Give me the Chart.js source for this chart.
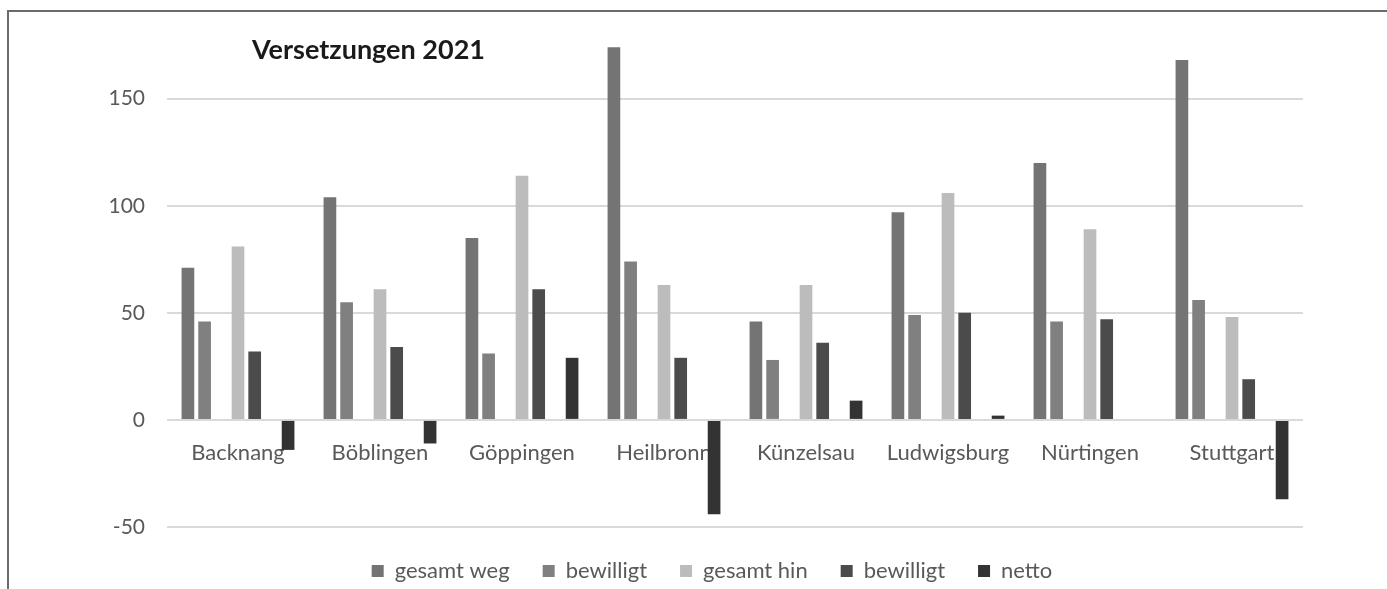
<!DOCTYPE html>
<html>
<head>
<meta charset="utf-8">
<script src="https://cdn.jsdelivr.net/npm/chart.js@4"></script>
<style>
  html, body { margin: 0; padding: 0; background: #fff; }
  #wrap { position: relative; width: 1387px; height: 589px; overflow: hidden; }
  #frame { position: absolute; left: 7px; top: 10px; width: 1400px; height: 600px;
           border-left: 2px solid #6b6b6b; border-top: 2px solid #6b6b6b; }
  canvas { position: absolute; left: 0; top: 0; }
</style>
</head>
<body>
<div id="wrap">
  <div id="frame"></div>
  <canvas id="chart" width="1387" height="589"></canvas>
</div>
<script>
// categories
const categories = ['Backnang', 'Böblingen', 'Göppingen', 'Heilbronn', 'Künzelsau', 'Ludwigsburg', 'Nürtingen', 'Stuttgart'];

// series values
const gesamtWeg    = [71, 104, 85, 174, 46, 97, 120, 168];
const bewilligtWeg = [46, 55, 31, 74, 28, 49, 46, 56];
const gesamtHin    = [81, 61, 114, 63, 63, 106, 89, 48];
const bewilligtHin = [32, 34, 61, 29, 36, 50, 47, 19];
const netto        = [-14, -11, 29, -44, 9, 2, 0, -37];
const emptySlot    = [null, null, null, null, null, null, null, null];

// axis
const yTicks = [-50, 0, 50, 100, 150];

const FONT = 'Lato, "Open Sans", sans-serif';

function bars(label, data, color) {
  return {
    label: label,
    data: data,
    backgroundColor: color,
    borderColor: color,
    borderWidth: 0,
    barPercentage: 0.76,
    categoryPercentage: 0.823
  };
}

// no axis-label padding, so the plot area sits where the layout puts it
function noPadding(scale) {
  scale.paddingTop = 0;
  scale.paddingBottom = 0;
}

const titlePlugin = {
  id: 'cornerTitle',
  afterDraw(chart) {
    const ctx = chart.ctx;
    ctx.save();
    ctx.font = 'bold 27px ' + FONT;
    ctx.fillStyle = '#1a1a1a';
    ctx.textAlign = 'left';
    ctx.textBaseline = 'middle';
    ctx.fillText('Versetzungen 2021', chart.chartArea.left + 85, 50);
    ctx.restore();
  }
};

new Chart(document.getElementById('chart'), {
  type: 'bar',
  data: {
    labels: categories,
    datasets: [
      bars('gesamt weg', gesamtWeg, '#747474'),
      bars('bewilligt', bewilligtWeg, '#808080'),
      bars('', emptySlot, '#ffffff'),
      bars('gesamt hin', gesamtHin, '#bcbcbc'),
      bars('bewilligt', bewilligtHin, '#4b4b4b'),
      bars('', emptySlot, '#ffffff'),
      bars('netto', netto, '#333333')
    ]
  },
  options: {
    responsive: false,
    animation: false,
    layout: { padding: { left: 37, right: 0, top: 13, bottom: -3 } },
    plugins: {
      title: { display: false },
      tooltip: { enabled: false },
      legend: {
        position: 'bottom',
        labels: {
          filter: (item) => item.text !== '',
          font: { family: FONT, size: 22 },
          color: '#595959',
          boxWidth: 12,
          boxHeight: 12,
          padding: 33
        }
      }
    },
    scales: {
      x: {
        position: { y: 0 },
        grid: { display: false },
        border: { display: false },
        afterFit: noPadding,
        ticks: {
          font: { family: FONT, size: 22 },
          color: '#595959',
          padding: 12,
          maxRotation: 0,
          autoSkip: false
        }
      },
      y: {
        min: -50,
        max: 190,
        afterBuildTicks: (scale) => {
          scale.ticks = yTicks.map(v => ({ value: v }));
        },
        afterFit: (scale) => { scale.width = 130; noPadding(scale); },
        grid: { color: '#d9d9d9', lineWidth: 2, drawTicks: false },
        border: { display: false },
        ticks: {
          font: { family: FONT, size: 21 },
          color: '#595959',
          padding: 22
        }
      },
      yRight: {
        position: 'right',
        display: true,
        min: -50,
        max: 190,
        grid: { display: false, drawTicks: false },
        border: { display: false },
        ticks: { display: false },
        afterFit: (scale) => { scale.width = 84; noPadding(scale); }
      }
    }
  },
  plugins: [titlePlugin]
});
</script>
</body>
</html>
